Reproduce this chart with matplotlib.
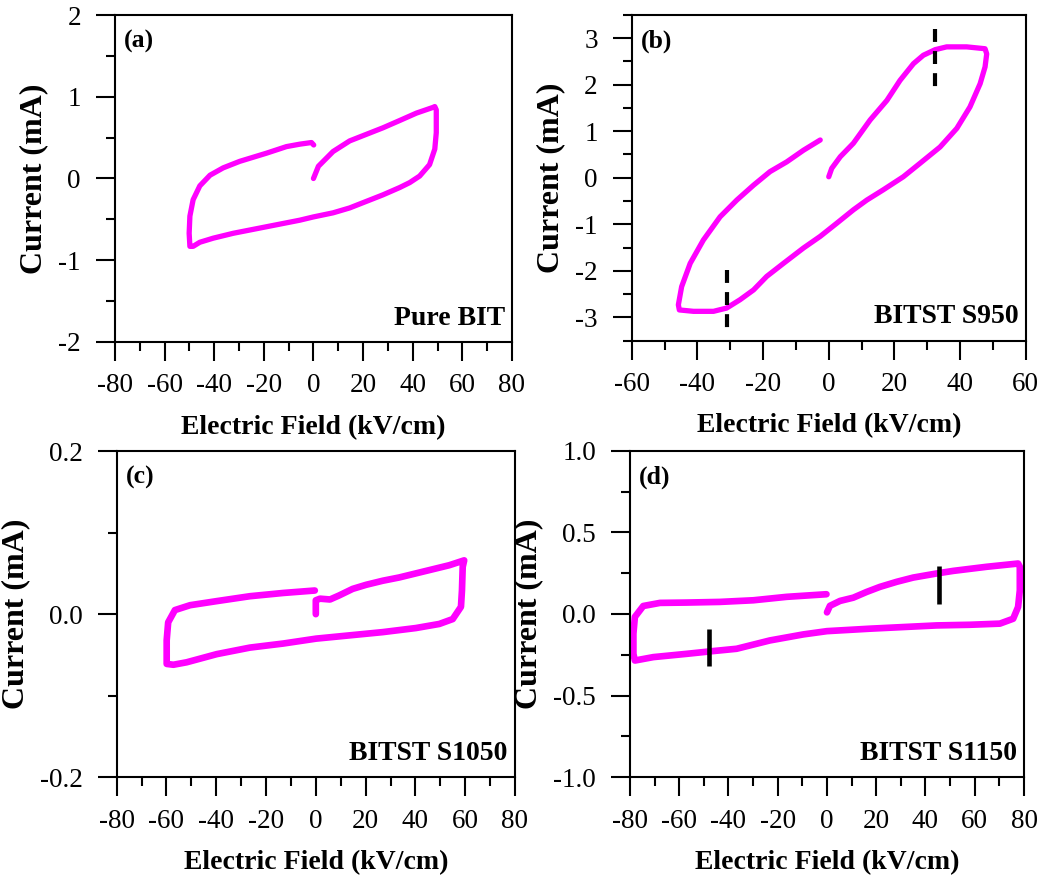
import matplotlib
matplotlib.use('Agg')
import matplotlib.pyplot as plt
from matplotlib.ticker import MultipleLocator, FormatStrFormatter

plt.rcParams['font.family'] = 'serif'
plt.rcParams['font.serif'] = ['Liberation Serif', 'DejaVu Serif']
plt.rcParams['axes.unicode_minus'] = False

# ---- data read off the loops (E in kV/cm, I in mA) ----
# (a) Pure BIT
e_a = [0, 2, 7.9, 14.6, 21.3, 28, 34.8, 41.5, 48.2, 48.9, 49.5, 49.5, 48.9, 46.8, 42.8,
       38.8, 34.8, 28, 21.3, 14.6, 7.9, 0, -5.5, -12.2, -18.9, -32.3, -40.4, -45.8, -48.5,
       -49.8, -50.1, -49.8, -48.5, -45.8, -41.7, -36.4, -29.7, -18.9, -10.9, -5.5, -0.8, 0.1]
i_a = [0, 0.15, 0.33, 0.46, 0.54, 0.62, 0.71, 0.80, 0.87, 0.88, 0.84, 0.56, 0.36, 0.17, 0.03,
       -0.05, -0.11, -0.20, -0.28, -0.36, -0.42, -0.47, -0.51, -0.55, -0.59, -0.67, -0.73, -0.78, -0.83,
       -0.83, -0.67, -0.46, -0.26, -0.09, 0.04, 0.13, 0.21, 0.31, 0.39, 0.42, 0.44, 0.41]

# (b) BITST S950
e_b = [0, 0.9, 3.5, 7.5, 12.6, 17.7, 21.7, 25.8, 28.8, 32.4, 35.9, 42, 47.6, 48.1, 47.6, 46.1,
       43, 39, 33.9, 27.8, 22.7, 16.6, 11.6, 7.5, 2.4, -2.6, -7.7, -13.8, -18.9, -22.9, -27,
       -31.1, -35.1, -41.2, -45.5, -45.8, -44.8, -42.2, -38.2, -33.1, -28, -22.9, -17.9,
       -12.8, -7.7, -2.6]
i_b = [0.02, 0.2, 0.45, 0.74, 1.24, 1.66, 2.09, 2.45, 2.63, 2.75, 2.81, 2.81, 2.77, 2.66, 2.38, 2.02,
       1.52, 1.06, 0.66, 0.31, 0.02, -0.26, -0.48, -0.69, -0.98, -1.26, -1.51, -1.84, -2.12, -2.41, -2.62,
       -2.80, -2.87, -2.87, -2.84, -2.73, -2.34, -1.84, -1.34, -0.84, -0.48, -0.16, 0.13,
       0.34, 0.59, 0.81]
mark_e_b = [32.4, -31.1]
mark_lo_b = [1.95, -3.23]
mark_hi_b = [3.2, -1.98]

# (c) BITST S1050
e_c = [0, 0, 1.7, 5.7, 9.4, 14.8, 20.2, 26.9, 33.5, 40.2, 46.9, 53.6, 59.6, 59, 58.7, 58.3,
       55, 49.6, 40.2, 26.9, 13.5, 0.1, -13.1, -26.5, -39.8, -51.9, -57.2, -59.9, -59.9,
       -59.3, -56.6, -50.5, -39.8, -26.5, -13.1, -0.4]
i_c = [0.0, 0.017, 0.019, 0.018, 0.023, 0.031, 0.036, 0.041, 0.045, 0.050, 0.055, 0.060, 0.066, 0.058,
       0.029, 0.009, -0.006, -0.012, -0.017, -0.022, -0.026, -0.030, -0.036, -0.041, -0.049, -0.059,
       -0.062, -0.061, -0.032, -0.010, 0.005, 0.011, 0.016, 0.022, 0.026, 0.029]

# (d) BITST S1150
e_d = [0, 1.2, 5.3, 10.7, 16.1, 21.5, 28.3, 35, 44.5, 51.3, 64.8, 77.6, 78.3, 78.3, 77.6, 75.6,
       70.2, 58, 44.5, 30.9, 17.4, 0, -9.6, -23.2, -36.7, -46.2, -57, -70.5, -78, -78.6,
       -78.6, -78, -74.6, -67.8, -57, -43.5, -29.9, -16.4, -0.2]
i_d = [0.01, 0.05, 0.08, 0.10, 0.135, 0.166, 0.197, 0.223, 0.248, 0.264, 0.289, 0.309, 0.289, 0.145,
       0.043, -0.029, -0.059, -0.066, -0.070, -0.080, -0.090, -0.105, -0.125, -0.162, -0.213, -0.227,
       -0.244, -0.264, -0.285, -0.244, -0.121, -0.018, 0.049, 0.068, 0.070, 0.074, 0.084, 0.105, 0.121]
mark_e_d = [45.4, -47.8]
mark_lo_d = [0.059, -0.32]
mark_hi_d = [0.293, -0.09]

panels = [
    # e, i, letter, name, xlim, xmaj, ylim, ymaj, yfmt, pos, lw
    (e_a, i_a, '(a)', 'Pure BIT', (-80, 80), 20, (-2, 2), 1, '%d', [0.1097, 0.6127, 0.3788, 0.3703], 3.8),
    (e_b, i_b, '(b)', 'BITST S950', (-60, 60), 20, (-3.5, 3.5), 1, '%d', [0.6028, 0.6142, 0.3760, 0.3691], 3.8),
    (e_c, i_c, '(c)', 'BITST S1050', (-80, 80), 20, (-0.2, 0.2), 0.2, '%.1f', [0.1113, 0.1197, 0.3801, 0.3695], 4.8),
    (e_d, i_d, '(d)', 'BITST S1150', (-80, 80), 20, (-1, 1), 0.5, '%.1f', [0.6011, 0.1197, 0.3760, 0.3699], 4.8),
]

fig = plt.figure(figsize=(10.48, 8.83), dpi=100)
axes = []
for e, i, letter, name, xlim, xmaj, ylim, ymaj, yfmt, pos, lw in panels:
    ax = fig.add_axes(pos)
    axes.append(ax)
    ax.plot(e, i, color='#ff00ff', linewidth=lw, solid_capstyle='round', solid_joinstyle='round')
    ax.set_xlim(*xlim)
    ax.set_ylim(*ylim)
    ax.xaxis.set_major_locator(MultipleLocator(xmaj))
    ax.xaxis.set_minor_locator(MultipleLocator(xmaj / 2))
    ax.yaxis.set_major_locator(MultipleLocator(ymaj))
    ax.yaxis.set_minor_locator(MultipleLocator(ymaj / 2))
    ax.yaxis.set_major_formatter(FormatStrFormatter(yfmt))
    ax.tick_params(which='both', direction='out', top=False, right=False, width=1.5,
                   labelsize=19.5)
    ax.tick_params(which='major', length=13.5)
    ax.tick_params(which='minor', length=6.5)
    ax.tick_params(axis='x', pad=9)
    ax.tick_params(axis='y', pad=11)
    for s in ax.spines.values():
        s.set_linewidth(1.5)
    ax.set_xlabel('Electric Field (kV/cm)', fontsize=20, fontweight='bold', labelpad=12)
    ax.set_ylabel('Current (mA)', fontsize=23, fontweight='bold', labelpad=7)
    ax.text(0.022, 0.955, letter, transform=ax.transAxes, fontsize=18.5, fontweight='bold',
            ha='left', va='top')
    ax.text(0.982, 0.035, name, transform=ax.transAxes, fontsize=20, fontweight='bold',
            ha='right', va='bottom')

# switching markers (drawn top-down so the dash pattern starts at the top)
ax_b, ax_d = axes[1], axes[3]
for x, lo, hi in zip(mark_e_b, mark_lo_b, mark_hi_b):
    ax_b.plot([x, x], [hi, lo], color='black', linewidth=3, linestyle=(0, (3.1, 2.2)),
              dash_capstyle='butt')
for x, lo, hi in zip(mark_e_d, mark_lo_d, mark_hi_d):
    ax_d.plot([x, x], [hi, lo], color='black', linewidth=3.3, solid_capstyle='butt')

fig.savefig('out.png', dpi=100)
